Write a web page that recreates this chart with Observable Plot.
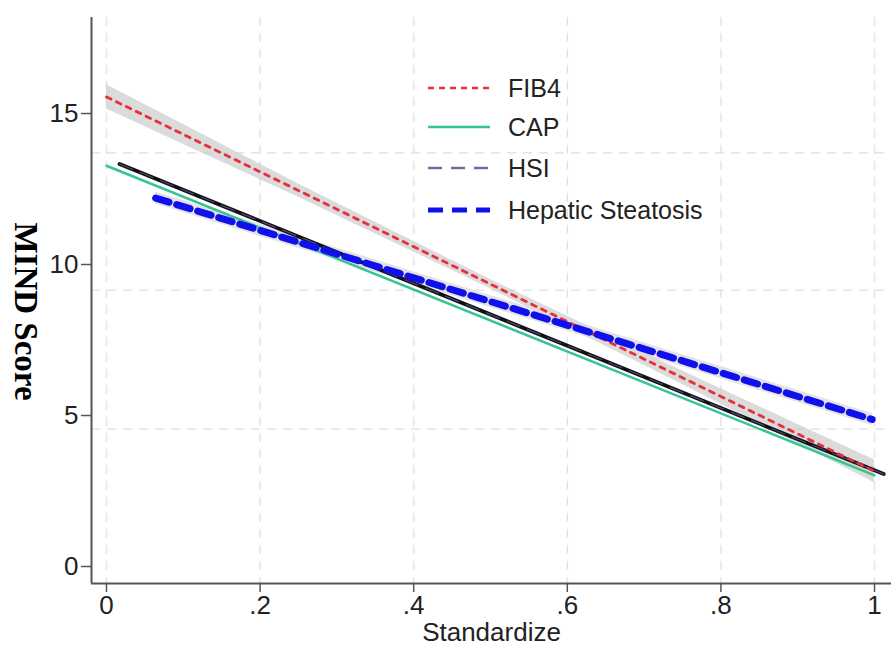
<!DOCTYPE html>
<html>
<head>
<meta charset="utf-8">
<script src="https://cdn.jsdelivr.net/npm/d3@7"></script>
<script src="https://cdn.jsdelivr.net/npm/@observablehq/plot@0.6"></script>
<style>
  html, body { margin: 0; padding: 0; background: #fff; }
  #wrap { position: relative; width: 891px; height: 659px; font-family: "Liberation Sans", Arial, sans-serif; }
  #legend { position: absolute; left: 0; top: 0; width: 891px; height: 659px; pointer-events: none; }
</style>
</head>
<body>
<div id="wrap"><div id="chart"></div><svg id="legend" width="891" height="659"></svg></div>
<script>
// ---- data ----
const xTicks = [0, 0.2, 0.4, 0.6, 0.8, 1];
const xTickLabels = ["0", ".2", ".4", ".6", ".8", "1"];
const yTicks = [0, 5, 10, 15];
const gridY = [13.7, 9.15, 4.55];
const seriesNames = ["FIB4", "CAP", "HSI", "Hepatic Steatosis"];

const fib4X = [0, 1];
const fib4Y = [15.55, 3.15];
const fib4BandX = [0, 0.25, 0.5, 0.75, 1];
const fib4BandLo = [15.15, 12.23, 9.2, 6.03, 2.77];
const fib4BandHi = [15.95, 12.67, 9.5, 6.47, 3.53];

const capX = [0, 1];
const capY = [13.27, 3.02];

const hsiX = [0.017, 1.012];
const hsiY = [13.33, 3.06];

const hepX = [0.064, 0.997];
const hepY = [12.2, 4.87];
const hepBandLo = [12.0, 4.67];
const hepBandHi = [12.4, 5.07];

// ---- tables ----
const zip = (xs, ys) => xs.map((x, i) => ({x, y: ys[i]}));
const fib4 = zip(fib4X, fib4Y);
const fib4Band = fib4BandX.map((x, i) => ({x, lo: fib4BandLo[i], hi: fib4BandHi[i]}));
const cap = zip(capX, capY);
const hsi = zip(hsiX, hsiY);
const hep = zip(hepX, hepY);
const hepBand = hepX.map((x, i) => ({x, lo: hepBandLo[i], hi: hepBandHi[i]}));

const xDom = [-0.0195, 1.0221];
const yDom = [-0.563, 18.18];

const colors = {FIB4: "#e8303a", CAP: "#36c492", HSI: "#4a4780", "Hepatic Steatosis": "#1010ee"};

const chart = Plot.plot({
  width: 891,
  height: 659,
  marginLeft: 91,
  marginRight: 0,
  marginTop: 17,
  marginBottom: 76,
  x: {domain: xDom, label: null},
  y: {domain: yDom, label: null},
  style: {fontFamily: "Liberation Sans, Arial, sans-serif", fontSize: "26px", color: "#222", background: "#fff"},
  marks: [
    // grid
    Plot.ruleX(xTicks, {stroke: "#e4e4e4", strokeWidth: 1.5, strokeDasharray: "9,7"}),
    Plot.ruleY(gridY, {stroke: "#e4e4e4", strokeWidth: 1.5, strokeDasharray: "9,7"}),
    // bands
    Plot.areaY(fib4Band, {x: "x", y1: "lo", y2: "hi", fill: "#cfcfcf", fillOpacity: 0.75}),
    Plot.areaY(hepBand, {x: "x", y1: "lo", y2: "hi", fill: "#dcdcdc", fillOpacity: 0.8}),
    // lines
    Plot.line(cap, {x: "x", y: "y", stroke: colors.CAP, strokeWidth: 2.5}),
    Plot.line(hsi, {x: "x", y: "y", stroke: "#111", strokeWidth: 3.8}),
    Plot.line(hsi, {x: "x", y: "y", stroke: colors.HSI, strokeWidth: 1.2, strokeDasharray: "14,8"}),
    Plot.line(fib4, {x: "x", y: "y", stroke: colors.FIB4, strokeWidth: 2.8, strokeDasharray: "5,6"}),
    Plot.line(hep, {x: "x", y: "y", stroke: colors["Hepatic Steatosis"], strokeWidth: 7, strokeDasharray: "14,8"}),
    // axes
    Plot.ruleX([xDom[0]], {stroke: "#555", strokeWidth: 2}),
    Plot.ruleY([yDom[0]], {stroke: "#555", strokeWidth: 2}),
    Plot.axisY({ticks: yTicks, tickSize: 10, tickPadding: 3, stroke: "#555", strokeWidth: 1.5, label: null, tickFormat: d => String(d)}),
    Plot.axisX({ticks: xTicks, tickSize: 9, tickPadding: 3, stroke: "#555", strokeWidth: 1.5, label: null,
      tickFormat: d => xTickLabels[xTicks.indexOf(d)]}),
    // axis titles
    Plot.text(["Standardize"], {frameAnchor: "bottom", dy: 57, fontSize: 26, fill: "#222"}),
    Plot.text(["MIND Score"], {frameAnchor: "left", textAnchor: "middle", dx: -66, dy: 11, rotate: 90, fontSize: 33,
      fontWeight: "bold", fontFamily: "Liberation Serif, Times New Roman, serif", fill: "#000"})
  ]
});
document.getElementById("chart").appendChild(chart);

// ---- legend overlay ----
const leg = d3.select("#legend");
const legY = [88, 127, 168, 210];
const legStyles = [
  {stroke: colors.FIB4, w: 2.5, dash: "6,5"},
  {stroke: colors.CAP, w: 2.5, dash: null},
  {stroke: "#6f6d9c", w: 2.5, dash: "14,9"},
  {stroke: colors["Hepatic Steatosis"], w: 5, dash: "15,9"}
];
seriesNames.forEach((name, i) => {
  const s = legStyles[i];
  leg.append("line").attr("x1", 428).attr("x2", 490).attr("y1", legY[i]).attr("y2", legY[i])
    .attr("stroke", s.stroke).attr("stroke-width", s.w).attr("stroke-dasharray", s.dash);
  leg.append("text").attr("x", 508).attr("y", legY[i]).attr("dy", "0.36em")
    .attr("font-family", "Liberation Sans, Arial, sans-serif").attr("font-size", 25).attr("fill", "#222")
    .text(name);
});
</script>
</body>
</html>
